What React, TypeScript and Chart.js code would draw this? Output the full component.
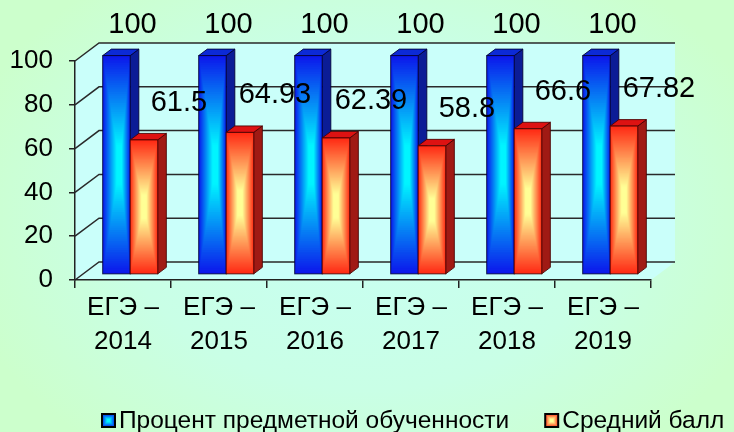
import React, { useEffect, useRef } from "react";
import { Chart, registerables } from "chart.js";

Chart.register(...registerables);

// ---- data ----
const categoryLabels: string[][] = [
  ["ЕГЭ –", "2014"],
  ["ЕГЭ –", "2015"],
  ["ЕГЭ –", "2016"],
  ["ЕГЭ –", "2017"],
  ["ЕГЭ –", "2018"],
  ["ЕГЭ –", "2019"],
];
const seriesNames = ["Процент предметной обученности", "Средний балл"];
const percentSuccess = [100, 100, 100, 100, 100, 100];
const averageScore = [61.5, 64.93, 62.39, 58.8, 66.6, 67.82];
const yTickValues = [0, 20, 40, 60, 80, 100];

// ---- styles ----
const FONT = "'Liberation Sans', Arial, Helvetica, sans-serif";
const WALL_DX = 24;
const WALL_DY = 18;
const BAR_SHIFT = 0.3;
const BAR_DEPTH = 0.36;

const barStyles = [
  {
    edge: [12, 24, 235],
    center: [0, 245, 255],
    cx: 0.62,
    top: "#0c2ad6",
    side: "#0b1c96",
    outline: "rgba(0,0,50,0.85)",
    labelDx: 16,
    labelDy: 31,
  },
  {
    edge: [255, 42, 20],
    center: [255, 255, 150],
    cx: 0.5,
    top: "#dd1212",
    side: "#a01a14",
    outline: "rgba(70,0,0,0.85)",
    labelDx: 35,
    labelDy: 37,
  },
];

function mix(a: number[], b: number[], t: number) {
  const c = a.map((v, i) => Math.round(v + (b[i] - v) * t));
  return `rgb(${c[0]},${c[1]},${c[2]})`;
}

function rectGradient(
  ctx: CanvasRenderingContext2D,
  x0: number,
  y0: number,
  x1: number,
  y1: number,
  edge: number[],
  center: number[],
  cxr: number
) {
  const cx = x0 + (x1 - x0) * cxr;
  const cy = (y0 + y1) / 2;
  const N = 60;
  for (let i = 0; i < N; i++) {
    const s = 1 - i / N;
    const t = Math.min(1, (i / (N - 1)) * 1.2);
    ctx.fillStyle = mix(edge, center, t);
    const l = cx - (cx - x0) * s;
    const r = cx + (x1 - cx) * s;
    const tp = cy - (cy - y0) * s;
    const bt = cy + (y1 - cy) * s;
    ctx.fillRect(l, tp, r - l, bt - tp);
  }
}

const scenePlugin = {
  id: "scene3d",
  beforeDraw(chart: any) {
    const { ctx, width, height } = chart;
    const { left: L, right: R, top: T, bottom: B } = chart.chartArea;
    const ys = chart.scales.y;
    ctx.save();
    // elliptical radial background
    ctx.save();
    ctx.translate(width * 0.5, height * 0.5);
    ctx.scale(1.4, 1);
    const g = ctx.createRadialGradient(0, 0, 20, 0, 0, 300);
    g.addColorStop(0, "#c8fff2");
    g.addColorStop(0.55, "#c9ffe6");
    g.addColorStop(1, "#ccffcc");
    ctx.fillStyle = g;
    ctx.fillRect(-width, -height, width * 2, height * 2);
    ctx.restore();

    ctx.fillStyle = "#cafffa";
    ctx.beginPath();
    ctx.moveTo(L, T);
    ctx.lineTo(L + WALL_DX, T - WALL_DY);
    ctx.lineTo(R + WALL_DX, T - WALL_DY);
    ctx.lineTo(R + WALL_DX, B - WALL_DY);
    ctx.lineTo(R, B);
    ctx.lineTo(L, B);
    ctx.closePath();
    ctx.fill();

    ctx.strokeStyle = "#2a2a2a";
    ctx.lineWidth = 1.5;
    for (const v of yTickValues) {
      const py = ys.getPixelForValue(v);
      ctx.beginPath();
      ctx.moveTo(L, py);
      ctx.lineTo(L + WALL_DX, py - WALL_DY);
      ctx.lineTo(R + WALL_DX, py - WALL_DY);
      ctx.stroke();
    }
    ctx.restore();
  },
  afterDatasetsDraw(chart: any) {
    const ctx: CanvasRenderingContext2D = chart.ctx;
    const metas = chart.data.datasets.map((_: any, i: number) => chart.getDatasetMeta(i));
    const n = chart.data.labels.length;
    const ox = WALL_DX * BAR_SHIFT;
    const oy = WALL_DY * BAR_SHIFT;
    const bdx = WALL_DX * BAR_DEPTH;
    const bdy = WALL_DY * BAR_DEPTH;
    ctx.save();
    ctx.lineWidth = 1;
    for (let i = 0; i < n; i++) {
      for (let d = 0; d < metas.length; d++) {
        const el = metas[d].data[i];
        const { x, y, base, width } = el.getProps(["x", "y", "base", "width"], true);
        const st = barStyles[d];
        const x0 = x - width / 2 + ox;
        const x1 = x + width / 2 + ox;
        const yt = y - oy;
        const yb = base - oy;
        ctx.strokeStyle = st.outline;
        // side face
        ctx.beginPath();
        ctx.moveTo(x1, yt);
        ctx.lineTo(x1 + bdx, yt - bdy);
        ctx.lineTo(x1 + bdx, yb - bdy);
        ctx.lineTo(x1, yb);
        ctx.closePath();
        ctx.fillStyle = st.side;
        ctx.fill();
        ctx.stroke();
        // top face
        ctx.beginPath();
        ctx.moveTo(x0, yt);
        ctx.lineTo(x0 + bdx, yt - bdy);
        ctx.lineTo(x1 + bdx, yt - bdy);
        ctx.lineTo(x1, yt);
        ctx.closePath();
        ctx.fillStyle = st.top;
        ctx.fill();
        ctx.stroke();
        // front face
        rectGradient(ctx, x0, yt, x1, yb, st.edge, st.center, st.cx);
        ctx.strokeRect(x0, yt, x1 - x0, yb - yt);
      }
    }
    // data labels
    ctx.font = `29px ${FONT}`;
    ctx.fillStyle = "#000";
    ctx.textAlign = "center";
    ctx.textBaseline = "middle";
    for (let d = 0; d < metas.length; d++) {
      const st = barStyles[d];
      const values = chart.data.datasets[d].data;
      for (let i = 0; i < n; i++) {
        const el = metas[d].data[i];
        const { x, y } = el.getProps(["x", "y"], true);
        ctx.fillText(String(values[i]), x + ox + st.labelDx, y - oy - st.labelDy);
      }
    }
    ctx.restore();
  },
  afterDraw(chart: any) {
    const ctx: CanvasRenderingContext2D = chart.ctx;
    ctx.save();
    ctx.font = `24.5px ${FONT}`;
    ctx.textBaseline = "middle";
    ctx.textAlign = "left";
    const box = 13;
    const yBox = 414;
    let xPos = 102;
    seriesNames.forEach((name, d) => {
      const st = barStyles[d];
      rectGradient(ctx, xPos, yBox, xPos + box, yBox + box, st.edge, st.center, 0.5);
      ctx.strokeStyle = "#000";
      ctx.lineWidth = 2;
      ctx.strokeRect(xPos, yBox, box, box);
      ctx.fillStyle = "#000";
      ctx.fillText(name, xPos + box + 4, yBox + box / 2 + 1);
      xPos += box + 4 + ctx.measureText(name).width + 36;
    });
    ctx.restore();
  },
};

export default function App() {
  const ref = useRef<HTMLCanvasElement | null>(null);
  useEffect(() => {
    if (!ref.current) return;
    const chart = new Chart(ref.current, {
      type: "bar",
      data: {
        labels: categoryLabels,
        datasets: [
          {
            label: seriesNames[0],
            data: percentSuccess,
            backgroundColor: "rgba(0,0,0,0)",
            borderWidth: 0,
          },
          {
            label: seriesNames[1],
            data: averageScore,
            backgroundColor: "rgba(0,0,0,0)",
            borderWidth: 0,
          },
        ],
      },
      options: {
        responsive: false,
        animation: false,
        devicePixelRatio: 1,
        events: [],
        layout: { padding: { top: 61, right: 83, bottom: 0, left: 0 } },
        datasets: { bar: { categoryPercentage: 0.573, barPercentage: 1 } },
        plugins: { legend: { display: false }, tooltip: { enabled: false } },
        scales: {
          x: {
            grid: {
              display: true,
              drawOnChartArea: false,
              drawTicks: true,
              tickLength: 8,
              color: "#222",
              lineWidth: 1.5,
              offset: true,
            },
            border: { display: true, color: "#222", width: 1.5 },
            ticks: {
              font: { family: FONT, size: 26, lineHeight: 1.3 },
              color: "#000",
              padding: 3,
              maxRotation: 0,
              autoSkip: false,
            },
            afterFit: (s: any) => {
              s.height = 152;
            },
          },
          y: {
            min: 0,
            max: 100,
            afterBuildTicks: (s: any) => {
              s.ticks = yTickValues.map((v) => ({ value: v }));
            },
            ticks: { font: { family: FONT, size: 26 }, color: "#000", padding: 16 },
            grid: { drawOnChartArea: false, tickLength: 6, color: "#222", lineWidth: 1.5 },
            border: { display: true, color: "#222", width: 1.5 },
            afterFit: (s: any) => {
              s.width = 75;
            },
          },
        },
      } as any,
      plugins: [scenePlugin],
    });
    return () => chart.destroy();
  }, []);
  return (
    <div style={{ position: "absolute", left: 0, top: 0, width: 734, height: 432 }}>
      <canvas ref={ref} width={734} height={432} style={{ display: "block", width: 734, height: 432 }} />
    </div>
  );
}
